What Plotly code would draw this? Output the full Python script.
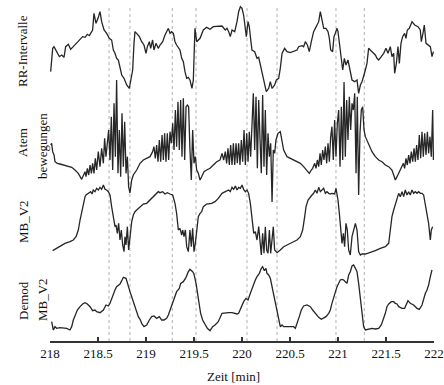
import plotly.graph_objects as go

# time offsets in minutes after 218 min, amplitudes in arbitrary units
rr_t = [0.007,0.028,0.042,0.069,0.097,0.122,0.146,0.163,0.191,0.215,0.243,0.278,0.313,0.340,0.365,0.389,0.410,0.424,0.444,0.458,0.479,0.500,0.521,0.538,0.563,0.590,0.618,0.642,0.660,0.677,0.694,0.712,0.729,0.747,0.771,0.799,0.826,0.840,0.861,0.875,0.885,0.903,0.931,0.955,0.979,1.000,1.014,1.035,1.049,1.069,1.083,1.104,1.128,1.146,1.174,1.198,1.215,1.233,1.250,1.267,1.285,1.302,1.319,1.354,1.372,1.389,1.406,1.424,1.441,1.458,1.479,1.493,1.510,1.528,1.563,1.597,1.632,1.667,1.701,1.753,1.792,
        1.826,1.844,1.861,1.878,1.896,1.924,1.948,1.965,1.983,2.000,2.017,2.035,2.045,2.063,2.076,2.087,2.104,2.132,2.156,2.174,2.191,2.208,2.236,2.253,2.278,2.295,2.313,2.340,2.358,2.382,2.399,2.417,2.444,2.469,2.503,2.538,2.573,2.590,2.625,2.642,2.660,2.681,2.701,2.722,2.746,2.764,2.781,2.799,2.816,2.833,2.851,2.875,2.896,2.910,2.924,2.944,2.958,2.972,2.990,3.000,3.014,3.035,3.049,3.066,3.083,3.104,3.128,3.146,3.174,3.198,3.215,3.233,3.250,3.267,3.285,3.302,3.319,3.354,3.389,3.406,3.424,3.451,3.476,3.500,3.521,3.545,3.562,3.580,3.590,3.608,3.625,3.639,3.656,3.673,3.694,3.708,3.722,3.743,3.771,3.799,3.833,3.857,3.868,3.885,3.899,3.917,3.944,3.962,3.979,3.994]
rr_v = [85,155,160,145,130,135,128,160,167,152,160,172,180,190,188,197,193,200,210,260,230,245,265,235,210,200,185,180,150,140,125,120,95,75,65,45,35,60,90,170,205,200,190,175,165,140,160,175,155,180,150,170,155,165,175,195,205,215,200,205,200,175,165,150,125,115,85,65,68,60,35,60,215,175,185,210,218,212,220,220,222,
        210,215,205,190,210,205,235,265,280,275,255,215,190,235,220,190,150,145,125,128,105,80,50,25,35,55,35,45,60,65,95,140,155,145,142,145,150,160,163,160,175,165,145,175,205,215,225,235,265,240,215,215,205,185,150,145,190,200,215,205,170,130,90,125,105,120,85,60,55,60,20,45,55,70,90,110,155,145,135,125,120,130,140,155,140,160,130,140,80,110,160,110,170,190,200,185,210,215,235,225,220,210,175,200,225,170,165,160,130,145,120]

atem_t = [0.007,0.017,0.028,0.042,0.052,0.076,0.104,0.139,0.174,0.226,0.260,0.295,0.330,0.347,0.365,0.375,0.389,0.403,0.417,0.431,0.444,0.458,0.472,0.486,0.503,0.521,0.538,0.556,0.569,0.583,0.597,0.611,0.625,0.639,0.653,0.667,0.681,0.694,0.708,0.722,0.736,0.750,0.764,0.778,0.792,0.806,0.819,0.833,0.851,0.868,0.903,0.938,0.972,1.007,1.042,1.069,1.083,1.097,1.111,1.125,1.139,1.153,1.167,1.181,1.194,1.208,1.222,1.236,1.250,1.264,1.278,1.292,1.306,1.319,1.333,1.347,1.361,1.375,1.389,1.403,1.417,1.431,1.444,1.458,1.472,1.486,1.500,1.514,1.528,1.545,1.563,1.580,1.604,1.632,1.667,1.701,1.736,1.771,
          1.792,1.809,1.826,1.840,1.854,1.868,1.882,1.896,1.910,1.924,1.938,1.951,1.965,1.979,1.993,2.007,2.021,2.035,2.049,2.063,2.076,2.090,2.104,2.118,2.132,2.146,2.160,2.174,2.188,2.201,2.215,2.229,2.243,2.257,2.271,2.285,2.299,2.313,2.326,2.340,2.354,2.375,2.399,2.417,2.434,2.469,2.503,2.538,2.573,2.608,2.642,2.677,2.701,2.722,2.736,2.757,2.771,2.785,2.799,2.813,2.826,2.840,2.854,2.868,2.882,2.896,2.910,2.924,2.937,2.951,2.965,2.979,2.993,3.007,3.021,3.035,3.049,3.063,3.076,3.090,3.104,3.118,3.132,3.146,3.160,3.174,3.188,3.201,3.215,3.229,3.243,3.257,3.271,3.285,3.302,3.319,3.354,3.389,3.424,3.458,3.493,3.528,3.562,3.580,3.597,3.615,3.632,3.649,3.667,3.681,3.694,3.708,3.722,3.736,3.750,3.764,3.778,3.792,3.806,3.819,3.833,3.847,3.861,3.875,3.889,3.903,3.917,3.931,3.944,3.958,3.972,3.986,3.994]
atem_v = [135,140,115,105,85,80,78,75,72,68,60,50,32,45,55,40,65,45,75,50,80,50,95,60,115,70,125,80,155,100,150,180,90,220,60,260,100,330,50,180,40,230,70,205,50,100,10,-9,30,45,60,80,90,95,100,115,130,95,135,85,150,85,165,90,170,85,170,90,175,140,200,120,240,130,265,120,270,100,275,90,250,255,250,120,30,180,80,100,60,50,30,40,55,60,65,75,85,90,
          110,90,115,80,125,75,135,75,140,75,140,80,140,75,150,85,180,75,170,85,175,100,190,290,120,280,65,270,150,50,285,70,240,45,170,100,140,-36,120,110,150,170,175,150,120,100,95,90,85,80,70,60,50,60,65,80,65,90,70,110,75,120,90,130,80,140,85,160,190,90,210,100,200,240,70,250,90,324,100,270,150,280,180,260,240,290,50,280,-15,170,240,250,180,160,150,135,115,100,90,85,75,70,60,45,30,40,50,60,70,80,65,95,75,105,80,115,85,125,85,135,90,165,95,175,100,170,105,175,110,160,100,240,90]

mb_t = [0.028,0.069,0.104,0.156,0.208,0.243,0.271,0.295,0.313,0.330,0.347,0.365,0.375,0.389,0.410,0.424,0.438,0.451,0.469,0.486,0.503,0.521,0.538,0.556,0.573,0.590,0.608,0.625,0.642,0.660,0.677,0.688,0.701,0.715,0.729,0.743,0.757,0.771,0.781,0.792,0.806,0.819,0.833,0.851,0.868,0.885,0.903,0.938,0.972,1.007,1.042,1.076,1.111,1.128,1.146,1.174,1.198,1.222,1.250,1.278,1.302,1.319,1.337,1.354,1.372,1.382,1.396,1.410,1.424,1.441,1.458,1.472,1.486,1.500,1.514,1.528,1.545,1.563,1.580,1.597,1.632,1.684,1.719,1.753,1.792,
        1.826,1.861,1.878,1.896,1.913,1.931,1.948,1.965,1.983,2.000,2.017,2.035,2.052,2.069,2.087,2.104,2.122,2.139,2.156,2.174,2.188,2.201,2.215,2.229,2.243,2.257,2.271,2.285,2.299,2.313,2.326,2.340,2.365,2.399,2.434,2.469,2.521,2.573,2.608,2.632,2.653,2.667,2.688,2.712,2.729,2.746,2.764,2.781,2.799,2.816,2.833,2.851,2.868,2.885,2.903,2.920,2.937,2.965,2.979,3.000,3.014,3.028,3.042,3.056,3.069,3.083,3.097,3.111,3.128,3.146,3.163,3.181,3.198,3.215,3.233,3.250,3.285,3.337,3.389,3.441,3.493,3.528,3.545,3.562,3.580,3.597,3.615,3.632,3.649,3.667,3.684,3.701,3.719,3.736,3.753,3.771,3.788,3.806,3.823,3.840,3.858,3.875,3.892,3.910,3.931,3.944,3.962,3.972,3.986]
mb_v = [88,95,102,110,115,120,130,150,180,205,230,250,255,258,260,265,258,270,265,275,270,278,272,285,272,270,265,255,220,190,160,165,140,170,120,150,105,85,130,105,160,90,130,175,195,205,210,220,228,230,240,250,260,265,262,265,258,262,258,255,230,200,150,155,135,150,130,150,100,85,150,100,155,85,110,140,190,200,205,220,228,230,235,245,260,
        265,270,265,278,272,282,270,278,275,285,272,265,270,260,230,190,140,145,120,160,105,75,140,80,160,90,80,150,80,120,160,90,82,90,100,105,112,120,130,150,190,220,240,250,255,260,270,260,278,265,270,275,260,265,260,258,260,258,275,240,200,150,110,140,100,170,150,90,75,130,155,170,150,85,75,78,78,82,88,95,100,110,150,190,210,225,245,260,250,265,250,270,255,265,255,270,260,265,260,265,260,260,255,225,190,170,120,150,160]

demod_t = [0.017,0.035,0.052,0.069,0.104,0.139,0.174,0.208,0.226,0.243,0.260,0.285,0.313,0.340,0.365,0.389,0.417,0.444,0.469,0.486,0.521,0.556,0.583,0.608,0.625,0.642,0.660,0.677,0.694,0.712,0.729,0.747,0.764,0.792,0.806,0.816,0.833,0.851,0.868,0.885,0.903,0.920,0.938,0.955,0.979,1.007,1.035,1.059,1.083,1.111,1.139,1.163,1.188,1.215,1.233,1.250,1.267,1.292,1.319,1.347,1.361,1.389,1.417,1.441,1.458,1.486,1.500,1.521,1.535,1.556,1.569,1.590,1.615,1.639,1.667,1.694,1.719,1.753,
           1.792,1.826,1.861,1.896,1.948,1.965,1.983,2.000,2.017,2.042,2.063,2.087,2.104,2.122,2.139,2.156,2.181,2.201,2.215,2.233,2.250,2.260,2.278,2.295,2.313,2.330,2.347,2.365,2.382,2.399,2.417,2.434,2.469,2.503,2.538,2.556,2.583,2.597,2.618,2.642,2.677,2.712,2.736,2.764,2.799,2.826,2.851,2.875,2.903,2.920,2.937,2.955,2.972,2.990,3.007,3.024,3.042,3.059,3.076,3.094,3.111,3.128,3.146,3.163,3.181,3.198,3.215,3.233,3.250,3.267,3.285,3.319,3.354,3.389,3.424,3.451,3.476,3.493,3.510,3.528,3.556,3.580,3.597,3.615,3.632,3.667,3.694,3.708,3.729,3.753,3.788,3.823,3.847,3.875,3.892,3.910,3.927,3.944,3.962,3.979]
demod_v = [115,90,100,95,97,95,95,90,100,120,135,150,160,168,172,168,160,148,150,145,142,150,165,162,170,185,200,210,220,225,228,238,248,245,230,215,205,190,175,160,142,130,122,110,100,105,120,130,132,125,130,120,120,125,135,150,165,185,205,215,230,235,248,265,272,265,258,230,205,170,140,120,105,95,88,100,105,115,
           140,142,142,142,138,140,152,160,175,185,180,200,215,225,240,250,260,275,280,268,275,260,255,245,220,195,170,150,130,100,105,100,100,100,100,95,115,130,150,162,165,160,150,140,128,122,125,130,140,150,170,190,205,220,230,240,242,240,235,230,255,265,282,285,275,265,230,190,140,100,90,92,95,93,95,105,125,140,160,168,175,175,170,168,160,155,155,165,178,170,165,155,152,165,185,200,210,225,250,270]

event_t = [0.615, 0.833, 1.274, 1.521, 2.052, 2.365, 2.979, 3.274]
x_ticks = [218, 218.5, 219, 219.5, 220, 220.5, 221, 221.5, 222]
t0 = 218

FONT = "Liberation Serif"
LINE = dict(color="#262626", width=1.3)

fig = go.Figure()
series = [(rr_t, rr_v, "y"), (atem_t, atem_v, "y2"), (mb_t, mb_v, "y3"), (demod_t, demod_v, "y4")]
for tt, vv, ax in series:
    fig.add_trace(go.Scatter(x=[t0 + a for a in tt], y=vv, mode="lines", line=LINE,
                             yaxis=ax, showlegend=False, hoverinfo="skip"))

for e in event_t:
    fig.add_shape(type="line", xref="x", yref="paper", x0=t0 + e, x1=t0 + e, y0=0, y1=0.985,
                  line=dict(color="#a0a0a0", width=0.8, dash="dot"), layer="below")

H = 341.0
def py(p):
    return 1 - p / H
def px(p):
    return (p - 50) / 384.0

labels = [("RR-Intervalle", 23, 51), ("Atem", 22, 143), ("bewegungen", 42, 146),
          ("MB_V2", 23, 222), ("Demod", 23, 301), ("MB_V2", 42, 300)]
for txt, x, y in labels:
    fig.add_annotation(text=txt, xref="paper", yref="paper", x=px(x), y=py(y), textangle=-90,
                       showarrow=False, xanchor="center", yanchor="middle",
                       font=dict(family=FONT, size=13, color="#111"))

fig.add_annotation(text="Zeit [min]", xref="paper", yref="paper", x=px(233), y=py(377),
                   showarrow=False, xanchor="center", yanchor="middle",
                   font=dict(family=FONT, size=13, color="#111"))

hidden = dict(visible=False, domain=[0, 1], fixedrange=True)
fig.update_layout(
    width=444, height=385,
    margin=dict(l=50, r=10, t=0, b=44),
    paper_bgcolor="white", plot_bgcolor="white",
    font=dict(family=FONT, size=13, color="#111"),
    xaxis=dict(range=[218, 222], tickvals=x_ticks, ticktext=[f"{v:g}" for v in x_ticks],
               showgrid=False, zeroline=False, showline=True, linecolor="#333", linewidth=1.5,
               ticks="inside", ticklen=4, tickwidth=1.5, tickcolor="#333", fixedrange=True,
               tickfont=dict(family=FONT, size=13, color="#111")),
    yaxis=dict(range=[-723, 300], **hidden),
    yaxis2=dict(range=[-453, 570], overlaying="y", **hidden),
    yaxis3=dict(range=[-183, 840], overlaying="y", **hidden),
    yaxis4=dict(range=[57, 1080], overlaying="y", **hidden),
)

fig.write_html("out.html", config={"displayModeBar": False, "staticPlot": True},
               post_script="document.body.style.margin='0';document.body.style.overflow='hidden';")
